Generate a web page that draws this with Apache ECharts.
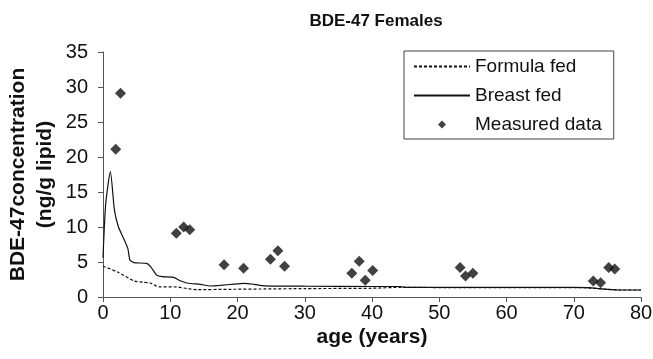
<!DOCTYPE html>
<html>
<head>
<meta charset="utf-8">
<script src="https://cdn.jsdelivr.net/npm/echarts@6/dist/echarts.min.js"></script>
<style>
  html, body { margin: 0; padding: 0; background: #fff; }
  #chart { width: 653px; height: 359px; }
</style>
</head>
<body>
<div id="chart"></div>
<script>
// Model curves: age (years) vs BDE-47 concentration (ng/g lipid)
const formulaFed = [
  [0, 4.4], [2.1, 3.6], [4.6, 2.3], [6.0, 2.1], [7.0, 2.0], [8.3, 1.45],
  [11.0, 1.43], [12.5, 1.2], [14.0, 1.05], [19.0, 1.1], [24.0, 1.15],
  [30.0, 1.2], [40.0, 1.25], [44.0, 1.38], [50.0, 1.35], [60.0, 1.35],
  [70.0, 1.35], [72.0, 1.3], [75.0, 1.1], [77.0, 1.0], [80.0, 1.0]
];
const breastFed = [
  [0, 5.6], [0.4, 13.3], [1.1, 17.9], [1.7, 12.4], [2.3, 10.0], [3.1, 8.3],
  [3.7, 6.9], [4.0, 5.3], [4.6, 4.9], [6.5, 4.8], [7.1, 4.3], [8.0, 3.1],
  [8.8, 2.9], [10.5, 2.8], [11.3, 2.4], [12.5, 2.0], [14.5, 1.8], [16.0, 1.57],
  [17.4, 1.65], [19.5, 1.85], [21.0, 1.95], [22.5, 1.8], [24.0, 1.6],
  [30.0, 1.55], [40.0, 1.5], [44.0, 1.5], [45.0, 1.38], [50.0, 1.38],
  [60.0, 1.38], [70.0, 1.38], [72.0, 1.33], [75.0, 1.1], [77.0, 1.0], [80.0, 1.0]
];
// Measured samples
const measuredData = [
  [1.9, 21.1], [2.6, 29.1], [10.9, 9.1], [12.0, 10.0], [12.9, 9.6],
  [18.0, 4.6], [20.9, 4.1], [24.9, 5.4], [26.0, 6.6], [27.0, 4.4],
  [37.0, 3.4], [38.1, 5.1], [39.0, 2.4], [40.1, 3.8],
  [53.1, 4.2], [53.9, 3.0], [55.0, 3.4],
  [72.9, 2.3], [74.0, 2.05], [75.2, 4.2], [76.1, 4.0]
];
const xTicks = { min: 0, max: 80, interval: 10 };
const yTicks = { min: 0, max: 35, interval: 5 };
const seriesNames = ['Formula fed', 'Breast fed', 'Measured data'];

const FONT = '"Liberation Sans", Arial, Helvetica, sans-serif';
const axisColor = '#555';
const ink = '#111';

const chart = echarts.init(document.getElementById('chart'), null, { renderer: 'canvas' });
chart.setOption({
  animation: false,
  backgroundColor: '#fff',
  textStyle: { fontFamily: FONT },
  title: {
    text: 'BDE-47 Females',
    left: 371,
    textAlign: 'center',
    top: 8,
    textStyle: { fontFamily: FONT, fontSize: 17, fontWeight: 'bold', color: ink }
  },
  grid: {
    left: 103, right: 12, top: 52, bottom: 62,
    containLabel: false,
    outerBoundsMode: 'none'
  },
  legend: {
    orient: 'vertical',
    left: 404,
    top: 51,
    padding: [6, 12, 5, 9],
    itemGap: 10,
    itemWidth: 56,
    itemHeight: 8,
    borderColor: '#444',
    borderWidth: 1,
    backgroundColor: '#fff',
    data: [
      // line samples only, no marker in the middle
      { name: seriesNames[0], itemStyle: { opacity: 0 } },
      { name: seriesNames[1], itemStyle: { opacity: 0 } },
      { name: seriesNames[2], icon: 'path://M0,-1L1,0L0,1L-1,0Z' }
    ],
    textStyle: { fontFamily: FONT, fontSize: 19, color: ink }
  },
  xAxis: {
    type: 'value',
    min: xTicks.min, max: xTicks.max, interval: xTicks.interval,
    name: 'age (years)',
    nameLocation: 'middle',
    nameGap: 30,
    nameMoveOverlap: false,
    nameTextStyle: { fontFamily: FONT, fontSize: 21, fontWeight: 'bold', color: ink },
    axisLine: { show: true, onZero: false, lineStyle: { color: axisColor, width: 1 } },
    axisTick: { show: true, length: 5, lineStyle: { color: axisColor } },
    axisLabel: { fontFamily: FONT, fontSize: 20, color: ink, margin: 6 },
    splitLine: { show: false }
  },
  yAxis: {
    type: 'value',
    min: yTicks.min, max: yTicks.max, interval: yTicks.interval,
    name: 'BDE-47concentration\n(ng/g lipid)',
    nameLocation: 'middle',
    nameRotate: 90,
    nameGap: 44,
    nameMoveOverlap: false,
    nameTextStyle: { fontFamily: FONT, fontSize: 21, fontWeight: 'bold', color: ink, lineHeight: 27 },
    axisLine: { show: true, lineStyle: { color: axisColor, width: 1 } },
    axisTick: { show: true, length: 5, lineStyle: { color: axisColor } },
    axisLabel: { fontFamily: FONT, fontSize: 20, color: ink, margin: 15 },
    splitLine: { show: false }
  },
  series: [
    {
      name: seriesNames[0],
      type: 'line',
      data: formulaFed,
      showSymbol: false,
      symbol: 'none',
      smooth: 0.2,
      lineStyle: { color: ink, width: 1.2, type: [3, 2] },
      itemStyle: { color: ink },
      z: 3
    },
    {
      name: seriesNames[1],
      type: 'line',
      data: breastFed,
      showSymbol: false,
      symbol: 'none',
      smooth: 0.2,
      lineStyle: { color: ink, width: 1.2, type: 'solid' },
      itemStyle: { color: ink },
      z: 3
    },
    {
      name: seriesNames[2],
      type: 'scatter',
      data: measuredData,
      symbol: 'diamond',
      symbolSize: 11,
      itemStyle: { color: ink },
      z: 4
    }
  ]
});
</script>
</body>
</html>
